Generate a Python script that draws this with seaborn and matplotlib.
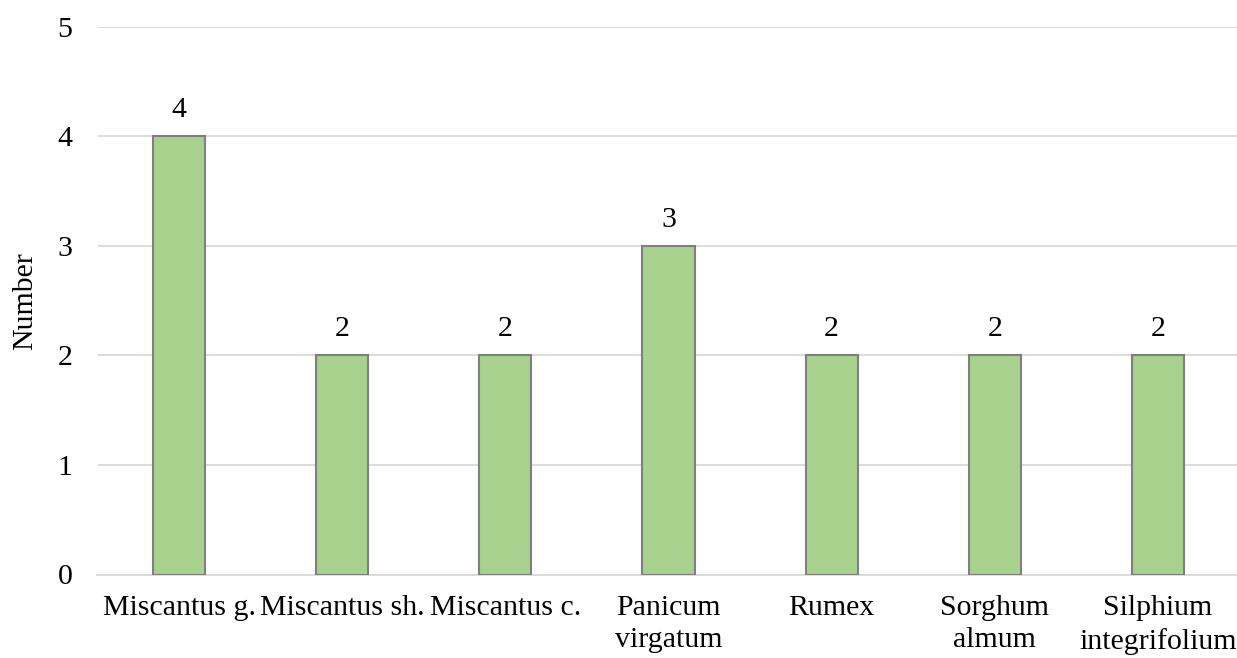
import matplotlib
matplotlib.use("Agg")
import matplotlib.pyplot as plt
import pandas as pd
import seaborn as sns

categories = ["Miscantus g.", "Miscantus sh.", "Miscantus c.", "Panicum\nvirgatum",
              "Rumex", "Sorghum\nalmum", "Silphium\nintegrifolium"]
counts = [4, 2, 2, 3, 2, 2, 2]

df = pd.DataFrame({"species": categories, "number": counts})

sns.set_style("white")
plt.rcParams["font.family"] = ["Liberation Serif", "DejaVu Serif"]
plt.rcParams["font.size"] = 21.5
plt.rcParams["text.color"] = "black"
plt.rcParams["axes.labelcolor"] = "black"

fig = plt.figure(figsize=(12.37, 6.58), dpi=100)
ax = fig.add_axes([97.5 / 1237, 1 - 574.5 / 658, 1 - 97.5 / 1237, (574.5 - 27) / 658])

sns.barplot(data=df, x="species", y="number", color="#A9D18E", width=0.32,
            edgecolor="#7F7F7F", linewidth=1.5, saturation=1, ax=ax, zorder=3)

for patch, val in zip(ax.patches, counts):
    ax.text(patch.get_x() + patch.get_width() / 2, val + 0.12, str(val),
            ha="center", va="bottom", fontsize=21.5, color="black")

ax.set_ylim(0, 5)
ax.set_xlim(-0.5, 6.485)
ax.set_yticks(range(6))
ax.yaxis.grid(True, color="#D9D9D9", linewidth=1.3, zorder=0)
ax.set_axisbelow(True)
for side in ["top", "right", "left"]:
    ax.spines[side].set_visible(False)
ax.spines["bottom"].set_color("#D9D9D9")
ax.spines["bottom"].set_linewidth(1.3)
ax.tick_params(axis="both", length=0, labelsize=21.5, colors="black")
ax.tick_params(axis="y", pad=18)
ax.tick_params(axis="x", pad=15)
for lbl in ax.get_xticklabels():
    lbl.set_linespacing(1.3)
ax.set_xlabel("")
ax.set_ylabel("Number", fontsize=21.5, labelpad=14, color="black")

fig.savefig("out.png", dpi=100)
